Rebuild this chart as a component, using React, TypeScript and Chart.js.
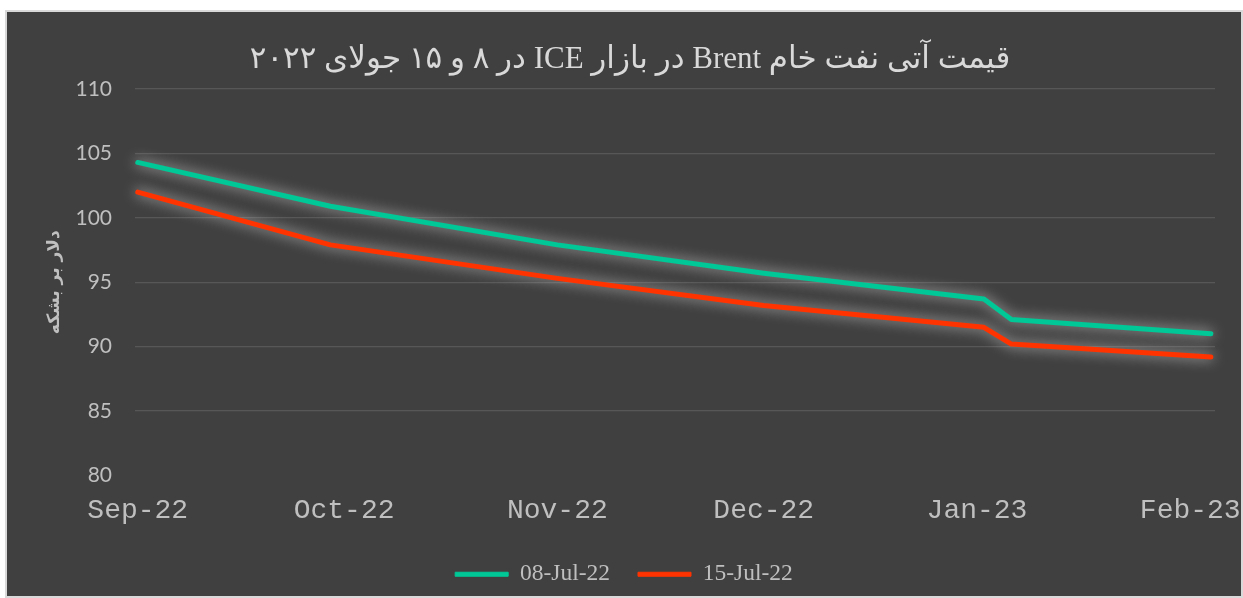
import React, { useEffect, useRef } from "react";
import { Chart, registerables } from "chart.js";

Chart.register(...registerables);

// Days since 1 Sep 2022
const pointDays = [0, 28, 61, 91, 123, 127, 156];
const series0807 = [104.3, 100.9, 97.9, 95.7, 93.7, 92.1, 91.0];
const series1507 = [102.0, 97.9, 95.3, 93.2, 91.5, 90.2, 89.2];
const seriesNames = ["08-Jul-22", "15-Jul-22"];
const seriesColors = ["#00c896", "#ff3300"];
const tickDays = [0, 30, 61, 91, 122, 153];
const tickLabels = ["Sep-22", "Oct-22", "Nov-22", "Dec-22", "Jan-23", "Feb-23"];
const titleText = "قیمت آتی نفت خام Brent در بازار ICE در ۸ و ۱۵ جولای ۲۰۲۲";
const yTitle = "دلار بر بشکه";

const glowPlugin = {
  id: "glow",
  beforeDatasetDraw(chart: any) {
    const ctx = chart.ctx;
    ctx.save();
    ctx.shadowColor = "rgba(205,205,205,0.9)";
    ctx.shadowBlur = 13;
    ctx.shadowOffsetX = 0;
    ctx.shadowOffsetY = 0;
  },
  afterDatasetDraw(chart: any) {
    chart.ctx.restore();
  },
};

const rtlTitlePlugin = {
  id: "rtlTitle",
  afterDraw(chart: any) {
    const ctx = chart.ctx;
    ctx.save();
    ctx.direction = "rtl";
    ctx.textAlign = "center";
    ctx.textBaseline = "middle";
    ctx.fillStyle = "#d9d9d9";
    ctx.font = "31px 'Liberation Serif', 'DejaVu Sans', serif";
    ctx.fillText(titleText, 623, 48);
    ctx.restore();
  },
};

export default function App() {
  const ref = useRef<HTMLCanvasElement | null>(null);
  useEffect(() => {
    if (!ref.current) return;
    const mk = (vals: number[]) => pointDays.map((d, i) => ({ x: d, y: vals[i] }));
    const seriesList = [series0807, series1507];
    const chart = new Chart(ref.current, {
      type: "line",
      data: {
        datasets: seriesList.map((vals, k) => ({
          label: seriesNames[k],
          data: mk(vals),
          borderColor: seriesColors[k],
          backgroundColor: seriesColors[k],
          borderWidth: 5,
          pointRadius: 0,
          tension: 0,
          clip: false as any,
          borderCapStyle: "round",
          borderJoinStyle: "round",
        })),
      },
      options: {
        animation: false,
        responsive: false,
        maintainAspectRatio: false,
        layout: { padding: { left: 0, right: 0, top: 77, bottom: 0 } },
        plugins: {
          tooltip: { enabled: false },
          title: { display: false },
          legend: {
            position: "bottom",
            labels: {
              color: "#bfbfbf",
              boxWidth: 53,
              boxHeight: 4,
              padding: 28,
              font: { family: "'Liberation Serif', serif", size: 23.5 },
              generateLabels: (ch: any) =>
                ch.data.datasets.map((ds: any, i: number) => ({
                  text: ds.label,
                  fillStyle: ds.borderColor,
                  strokeStyle: ds.borderColor,
                  lineWidth: 1,
                  fontColor: "#bfbfbf",
                  hidden: false,
                  datasetIndex: i,
                })),
            },
          },
        },
        scales: {
          x: {
            type: "linear",
            min: -0.4,
            max: 156.6,
            grid: { display: false },
            border: { display: false },
            afterBuildTicks: (scale: any) => {
              scale.ticks = tickDays.map((v) => ({ value: v }));
            },
            afterFit: (scale: any) => {
              scale.height = 59;
              scale.paddingRight = 26;
              scale.paddingLeft = 0;
            },
            ticks: {
              autoSkip: false,
              maxRotation: 0,
              padding: 10,
              color: "#bfbfbf",
              font: { family: "'Liberation Mono', monospace", size: 28 },
              callback: (v: any) => {
                const i = tickDays.indexOf(Number(v));
                return i >= 0 ? tickLabels[i] : "";
              },
            },
          },
          y: {
            min: 80,
            max: 110,
            grid: {
              color: (c: any) => (c.tick && c.tick.value === 80 ? "rgba(0,0,0,0)" : "#575757"),
              lineWidth: 1.3,
              drawTicks: false,
            },
            border: { display: false },
            afterFit: (scale: any) => {
              scale.width = 128;
            },
            ticks: {
              stepSize: 5,
              padding: 23,
              color: "#bfbfbf",
              font: { family: "Lato, 'Open Sans', sans-serif", size: 21 },
            },
            title: {
              display: true,
              text: yTitle,
              color: "#bfbfbf",
              font: { family: "'DejaVu Sans', sans-serif", size: 17, weight: "bold" },
              padding: { top: 37, bottom: 0 },
            },
          },
        },
      },
      plugins: [glowPlugin, rtlTitlePlugin],
    } as any);
    return () => chart.destroy();
  }, []);
  return (
    <div
      style={{
        position: "absolute",
        left: 5,
        top: 10,
        width: 1238,
        height: 588,
        boxSizing: "border-box",
        border: "2px solid #d9d9d9",
        background: "#404040",
      }}
    >
      <canvas ref={ref} width={1234} height={584} style={{ display: "block" }} />
    </div>
  );
}
